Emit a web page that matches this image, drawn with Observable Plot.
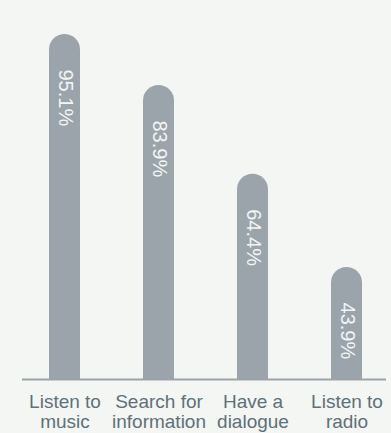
<!DOCTYPE html>
<html>
<head>
<meta charset="utf-8">
<script src="https://cdn.jsdelivr.net/npm/d3@7"></script>
<script src="https://cdn.jsdelivr.net/npm/@observablehq/plot@0.6"></script>
<style>
  html, body { margin: 0; padding: 0; background: #f4f6f3; }
  #chart { width: 391px; height: 433px; overflow: hidden; }
</style>
</head>
<body>
<div id="chart"></div>
<script>
const categories = ["Listen to\nmusic", "Search for\ninformation", "Have a\ndialogue", "Listen to\nradio"];
const values = [95.1, 83.9, 64.4, 43.9];
const valueLabels = ["95.1%", "83.9%", "64.4%", "43.9%"];

const data = categories.map((c, i) => ({category: c, value: values[i], label: valueLabels[i]}));

const barColor = "#9ba4aa";
const baseline = 19.3;

const chart = Plot.plot({
  width: 391,
  height: 433,
  marginLeft: 20,
  marginRight: 1,
  marginTop: 34,
  marginBottom: 54,
  style: {background: "#f4f6f3", fontFamily: "'Liberation Sans', Arial, sans-serif"},
  x: {domain: categories, paddingInner: 0.671, paddingOuter: 0.3, axis: null, label: null},
  y: {domain: [baseline, 95.1], axis: null},
  marks: [
    Plot.barY(data, {x: "category", y1: 10, y2: "value", fill: barColor, rx: 15.5, clip: true}),
    Plot.ruleY([baseline], {stroke: barColor, strokeWidth: 2, insetLeft: 2, insetRight: 4}),
    Plot.text(data, {x: "category", y: "value", text: "label", rotate: 90, textAnchor: "start", lineAnchor: "middle", dy: 35, fill: "#f4f5f5", fontSize: 20}),
    Plot.axisX({label: null, tickSize: 0, tickPadding: 14, fontSize: 19, lineHeight: 1.05, fill: "#5e7079", textAnchor: "middle"})
  ]
});
document.getElementById("chart").append(chart);
</script>
</body>
</html>
